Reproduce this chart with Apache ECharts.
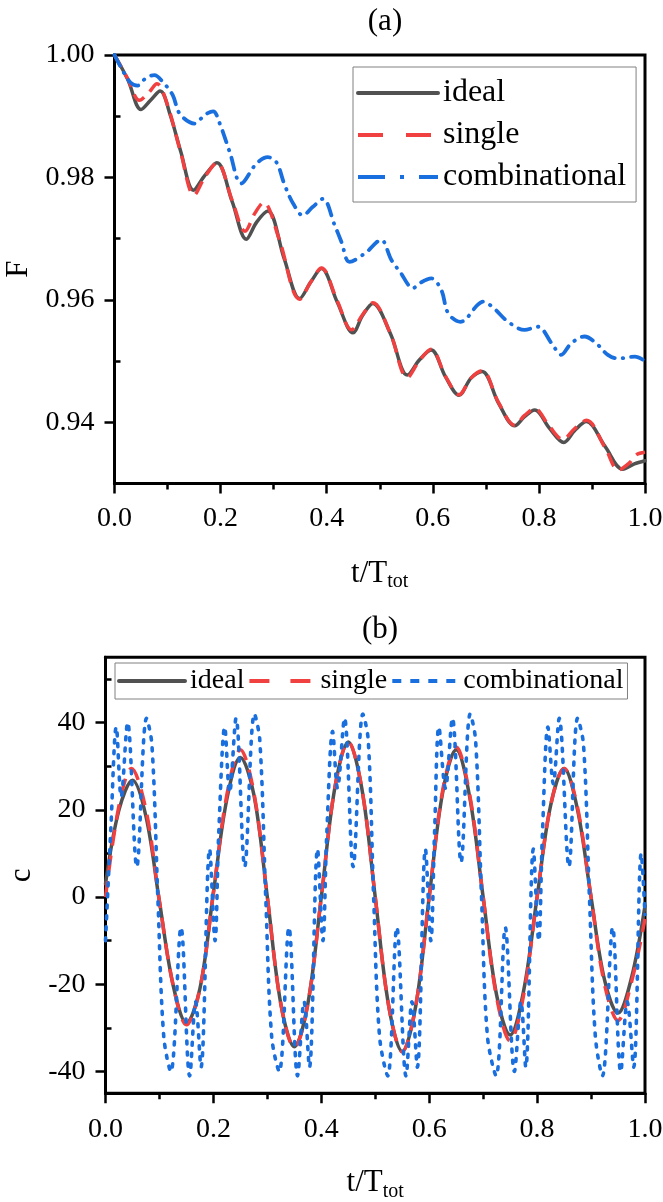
<!DOCTYPE html>
<html><head><meta charset="utf-8">
<script src="https://cdn.jsdelivr.net/npm/echarts@6/dist/echarts.min.js"></script>
<style>html,body{margin:0;padding:0;background:#fff}#c{width:663px;height:1202px}</style>
</head><body><div id="c"></div>
<script>
// ---------- data ----------
const xTicks = [0, 0.2, 0.4, 0.6, 0.8, 1.0];
const aYTicks = [0.94, 0.96, 0.98, 1.00];
const aYMinor = [0.93, 0.95, 0.97, 0.99];
const bYTicks = [-40, -20, 0, 20, 40];
const bYMinor = [-30, -10, 10, 30, 50];
const seriesNames = ['ideal', 'single', 'combinational'];

// panel (a): F vs t/Ttot
const aIdeal = [[0,1.0000],[0.025,0.9960],[0.050,0.9911],[0.068,0.9926],[0.086,0.9941],[0.105,0.9902],[0.125,0.9842],[0.149,0.9779],[0.170,0.9803],[0.193,0.9824],[0.222,0.9760],[0.2485,0.9699],[0.268,0.9727],[0.289,0.9745],[0.320,0.9667],[0.349,0.9602],[0.370,0.9629],[0.390,0.9651],[0.420,0.9596],[0.4496,0.9546],[0.468,0.9575],[0.487,0.9594],[0.520,0.9545],[0.552,0.9477],[0.575,0.9502],[0.597,0.9518],[0.624,0.9474],[0.6495,0.9444],[0.672,0.9472],[0.693,0.9483],[0.724,0.9431],[0.7545,0.9394],[0.773,0.9409],[0.792,0.9420],[0.820,0.9390],[0.847,0.9367],[0.868,0.9387],[0.8895,0.9401],[0.925,0.9360],[0.958,0.9323],[0.980,0.9332],[1.0,0.9337]];
const aSingle = [[0,1.0000],[0.025,0.9961],[0.047,0.9926],[0.064,0.9938],[0.080,0.9953],[0.100,0.9918],[0.125,0.9840],[0.150,0.9771],[0.170,0.9800],[0.193,0.9824],[0.222,0.9762],[0.246,0.9712],[0.265,0.9742],[0.281,0.9759],[0.310,0.9700],[0.349,0.9601],[0.370,0.9629],[0.390,0.9652],[0.420,0.9598],[0.447,0.9551],[0.468,0.9576],[0.487,0.9595],[0.520,0.9545],[0.552,0.9473],[0.575,0.9501],[0.597,0.9519],[0.624,0.9475],[0.6495,0.9445],[0.672,0.9472],[0.693,0.9484],[0.724,0.9432],[0.7545,0.9395],[0.773,0.9411],[0.792,0.9422],[0.820,0.9393],[0.845,0.9372],[0.868,0.9390],[0.8895,0.9403],[0.925,0.9358],[0.950,0.9322],[0.970,0.9333],[0.984,0.9347],[1.0,0.9351]];
const aComb = [[0,1.0000],[0.015,0.9975],[0.030,0.9955],[0.043,0.9950],[0.060,0.9963],[0.075,0.9967],[0.092,0.9955],[0.110,0.9934],[0.123,0.9904],[0.151,0.9888],[0.170,0.9902],[0.186,0.9908],[0.198,0.9889],[0.217,0.9842],[0.239,0.9790],[0.267,0.9822],[0.289,0.9833],[0.305,0.9825],[0.321,0.9787],[0.337,0.9757],[0.355,0.9738],[0.374,0.9752],[0.393,0.9765],[0.415,0.9722],[0.428,0.9694],[0.443,0.9662],[0.475,0.9678],[0.494,0.9694],[0.503,0.9698],[0.522,0.9665],[0.538,0.9646],[0.563,0.9619],[0.575,0.9627],[0.597,0.9635],[0.616,0.9616],[0.629,0.9578],[0.652,0.9564],[0.685,0.9592],[0.695,0.9597],[0.714,0.9587],[0.742,0.9564],[0.773,0.9551],[0.798,0.9556],[0.824,0.9529],[0.842,0.9510],[0.861,0.9529],[0.886,0.9540],[0.908,0.9529],[0.930,0.9510],[0.949,0.9504],[0.981,0.9507],[1.0,0.9500]];

// panel (b): c vs t/Ttot
const bIdeal = [[0,3],[0.025,20],[0.050,26.8],[0.075,18.5],[0.100,-1],[0.125,-20],[0.150,-28.9],[0.175,-21],[0.200,1],[0.225,22.5],[0.250,32],[0.275,23.5],[0.300,0],[0.325,-24.5],[0.350,-34.3],[0.375,-24.5],[0.400,0],[0.425,25],[0.450,35.6],[0.475,25],[0.500,0],[0.525,-25],[0.550,-35.4],[0.575,-25],[0.600,0],[0.625,24],[0.650,33.8],[0.675,23],[0.700,0],[0.725,-22.5],[0.750,-31.6],[0.775,-21.5],[0.800,0],[0.825,21],[0.850,29.5],[0.875,20],[0.900,0],[0.925,-19],[0.950,-26.6],[0.975,-18.5],[1.0,-2]];
const bSingle = [[0,0],[0.025,21],[0.048,29.5],[0.075,20],[0.100,-1],[0.125,-20],[0.150,-29.3],[0.175,-21],[0.200,1],[0.225,23.5],[0.250,33.8],[0.275,24],[0.300,0],[0.325,-24.5],[0.350,-34.5],[0.375,-24.5],[0.400,0],[0.425,25],[0.450,35.6],[0.475,25],[0.500,0],[0.525,-25],[0.550,-35.5],[0.575,-25],[0.600,0],[0.625,24.5],[0.650,34.4],[0.675,23.5],[0.700,0],[0.725,-23],[0.750,-33],[0.775,-22.5],[0.800,0],[0.825,21],[0.850,29.5],[0.875,20.5],[0.900,0],[0.925,-20],[0.950,-28.3],[0.975,-19.5],[1.0,-5]];
const bComb = [[0,-10],[0.010,16],[0.020,39],[0.029,23],[0.041,40],[0.058,7],[0.076,41],[0.086,35],[0.097,0],[0.108,-32],[0.121,-40],[0.140,-7],[0.156,-41],[0.167,-24],[0.177,-39],[0.193,11],[0.203,-10],
 [0.210,15],[0.221,39],[0.230,24],[0.242,41],[0.258,7],[0.276,42],[0.286,36],[0.297,0],[0.308,-32],[0.322,-40],[0.340,-7],[0.356,-41],[0.368,-24],[0.378,-39],[0.393,11],[0.403,-10],
 [0.410,14],[0.421,38],[0.430,25],[0.443,41],[0.459,7],[0.477,42],[0.487,36],[0.497,0],[0.508,-32],[0.523,-41],[0.540,-7],[0.557,-41],[0.568,-24],[0.578,-39],[0.593,11],[0.603,-10],
 [0.610,15],[0.618,39],[0.630,25],[0.643,41],[0.659,8],[0.676,42],[0.686,36],[0.697,0],[0.708,-32],[0.724,-41],[0.741,-7],[0.758,-40],[0.770,-24],[0.779,-39],[0.793,11],[0.803,-10],
 [0.810,15],[0.820,39],[0.830,26],[0.841,41],[0.859,7],[0.875,41],[0.886,35],[0.897,0],[0.908,-32],[0.921,-41],[0.940,-7],[0.955,-40],[0.967,-24],[0.979,-39],[0.993,10],[1.0,-4]];

// ---------- styling / options ----------
const FONT = "'Liberation Serif','Times New Roman',serif";
const C_IDEAL = '#515151', C_SINGLE = '#F14040', C_COMB = '#1A6FDF';

function xAxisFor(g, nameGap, margin) {
  return {
    gridIndex: g, type: 'value', min: 0, max: 1, interval: 0.2,
    axisLine: { show: true, onZero: false, lineStyle: { color: '#000', width: 3 } },
    axisTick: { show: true, length: 10, lineStyle: { color: '#000', width: 2.5 } },
    minorTick: { show: true, splitNumber: 2, length: 6, lineStyle: { color: '#000', width: 2.5 } },
    splitLine: { show: false },
    axisLabel: { color: '#000', fontFamily: FONT, fontSize: 28, margin: margin,
      formatter: v => v.toFixed(1) },
    name: '{a|t/T}{b|tot}', nameLocation: 'middle', nameGap: nameGap,
    nameTextStyle: { color: '#000', rich: {
      a: { fontFamily: FONT, fontSize: 31, color: '#000', lineHeight: 36 },
      b: { fontFamily: FONT, fontSize: 20, color: '#000', lineHeight: 18, verticalAlign: 'bottom' } } }
  };
}
function yMain(g, min, max, ticks, dec, name, nameGap) {
  return {
    gridIndex: g, type: 'value', min: min, max: max,
    axisLine: { show: true, onZero: false, lineStyle: { color: '#000', width: 3 } },
    axisTick: { show: true, length: 10, customValues: ticks, lineStyle: { color: '#000', width: 2.5 } },
    splitLine: { show: false },
    axisLabel: { color: '#000', fontFamily: FONT, fontSize: 28, margin: 20, customValues: ticks,
      formatter: v => (dec ? v.toFixed(dec) : String(Math.round(v))) },
    name: name, nameLocation: 'middle', nameGap: nameGap, nameRotate: 90,
    nameTextStyle: { color: '#000', fontFamily: FONT, fontSize: 31 }
  };
}
function yMinor(g, min, max, ticks) {
  return {
    gridIndex: g, type: 'value', min: min, max: max,
    axisLine: { show: false },
    axisTick: { show: true, length: 6, customValues: ticks, lineStyle: { color: '#000', width: 2.5 } },
    splitLine: { show: false },
    axisLabel: { show: false }
  };
}
function lineSeries(name, data, xi, yi, color, width, type, cap, z) {
  return { name: name, type: 'line', xAxisIndex: xi, yAxisIndex: yi, data: data,
    symbol: 'none', smooth: 0.35, z: z, silent: true, animation: false,
    lineStyle: { color: color, width: width, type: type, cap: cap },
    itemStyle: { color: color } };
}
const hiddenSymbol = { color: 'rgba(0,0,0,0)', opacity: 0, borderWidth: 0 };

const option = {
  animation: false,
  backgroundColor: '#fff',
  title: [
    { text: '(a)', left: 380, top: 1, textAlign: 'center',
      textStyle: { fontFamily: FONT, fontSize: 31, fontWeight: 'normal', color: '#000' } },
    { text: '(b)', left: 375, top: 609, textAlign: 'center',
      textStyle: { fontFamily: FONT, fontSize: 31, fontWeight: 'normal', color: '#000' } }
  ],
  grid: [
    { left: 114.5, top: 55, width: 530.5, height: 428.4, show: true, borderColor: '#000', borderWidth: 3,
      containLabel: false, outerBoundsMode: 'none' },
    { left: 105.5, top: 657.3, width: 539.5, height: 436, show: true, borderColor: '#000', borderWidth: 3,
      containLabel: false, outerBoundsMode: 'none' }
  ],
  xAxis: [ xAxisFor(0, 72, 21), xAxisFor(1, 72, 22) ],
  yAxis: [
    yMain(0, 0.93, 1.0, aYTicks, 2, 'F', 71),
    yMinor(0, 0.93, 1.0, aYMinor),
    yMain(1, -45, 55, bYTicks, 0, 'c', 61),
    yMinor(1, -45, 55, bYMinor)
  ],
  legend: [
    { orient: 'vertical', left: 353, top: 67, itemWidth: 80, itemHeight: 14, itemGap: 10,
      padding: [10, 10, 9, 3], borderColor: '#808080', borderWidth: 1,
      itemStyle: hiddenSymbol,
      textStyle: { fontFamily: FONT, fontSize: 32, color: '#000' },
      data: [
        { name: seriesNames[0], itemStyle: hiddenSymbol, lineStyle: { width: 4 } },
        { name: seriesNames[1], itemStyle: hiddenSymbol, lineStyle: { width: 4, type: [25, 23], cap: 'butt' } },
        { name: seriesNames[2], itemStyle: hiddenSymbol, lineStyle: { width: 4, type: [27, 15, 4, 15], cap: 'butt' } }
      ] },
    { orient: 'horizontal', left: 115, top: 663, itemWidth: 66, itemHeight: 14, itemGap: 3,
      padding: [4, 4, 4, 2], borderColor: '#808080', borderWidth: 1,
      itemStyle: hiddenSymbol,
      textStyle: { fontFamily: FONT, fontSize: 28, color: '#000' },
      formatter: n => n.replace(' (b)', ''),
      data: [
        { name: seriesNames[0] + ' (b)', itemStyle: hiddenSymbol, lineStyle: { width: 4 } },
        { name: seriesNames[1] + ' (b)', itemStyle: hiddenSymbol, lineStyle: { width: 4, type: [20, 21], cap: 'butt' } },
        { name: seriesNames[2] + ' (b)', itemStyle: hiddenSymbol, lineStyle: { width: 4, type: [9, 9], cap: 'butt' } }
      ] }
  ],
  series: [
    lineSeries(seriesNames[0], aIdeal, 0, 0, C_IDEAL, 3.5, 'solid', 'round', 2),
    lineSeries(seriesNames[1], aSingle, 0, 0, C_SINGLE, 3.5, [14, 8], 'butt', 3),
    lineSeries(seriesNames[2], aComb, 0, 0, C_COMB, 3.8, [12, 8, 0.5, 8], 'round', 4),
    lineSeries(seriesNames[0] + ' (b)', bIdeal, 1, 2, C_IDEAL, 3.5, 'solid', 'round', 2),
    lineSeries(seriesNames[1] + ' (b)', bSingle, 1, 2, C_SINGLE, 3.5, [16, 10], 'butt', 3),
    lineSeries(seriesNames[2] + ' (b)', bComb, 1, 2, C_COMB, 3.6, [3, 8], 'round', 4)
  ]
};
const chart = echarts.init(document.getElementById('c'), null, { renderer: 'canvas' });
chart.setOption(option);
</script></body></html>
